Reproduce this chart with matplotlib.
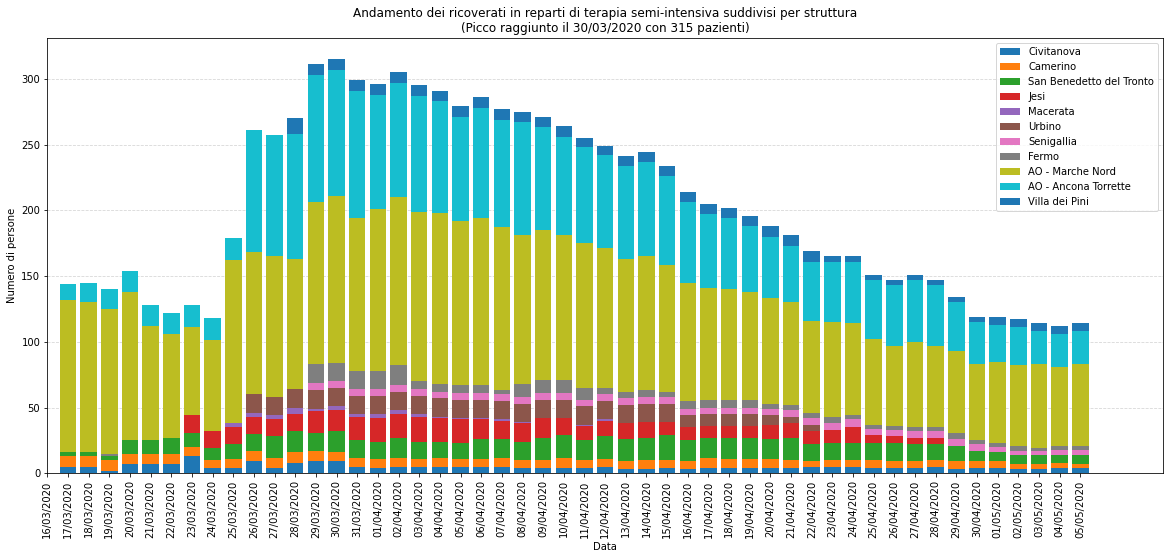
import matplotlib
matplotlib.use("Agg")
import matplotlib.pyplot as plt
import numpy as np
import pandas as pd

dates = list(pd.date_range("2020-03-16", "2020-05-05").strftime("%d/%m/%Y"))

civitanova = [0, 5, 5, 2, 7, 7, 7, 13, 4, 4, 9, 4, 8, 9, 9, 5, 4, 5, 5, 5, 5, 5, 5, 4, 4, 4,
              4, 5, 3, 3, 4, 3, 4, 4, 4, 4, 4, 5, 5, 5, 4, 4, 4, 5, 3, 4, 4, 3, 3, 4, 4]
camerino = [0, 8, 8, 8, 8, 8, 8, 7, 6, 7, 8, 8, 8, 8, 7, 7, 7, 7, 6, 7, 6, 6, 7, 6, 6, 8,
            6, 6, 6, 7, 6, 6, 8, 7, 7, 7, 6, 4, 5, 5, 6, 5, 5, 5, 6, 5, 5, 4, 4, 4, 3]
san_benedetto = [0, 3, 3, 3, 10, 10, 12, 11, 9, 11, 13, 16, 16, 14, 16, 13, 13, 15, 13, 12, 12, 15, 14, 14, 17, 17,
                 15, 17, 17, 17, 19, 16, 15, 16, 16, 15, 17, 13, 13, 13, 13, 14, 13, 12, 12, 8, 7, 7, 7, 6, 7]
jesi = [0, 0, 0, 0, 0, 0, 0, 13, 13, 13, 13, 13, 13, 16, 16, 18, 18, 18, 19, 18, 18, 15, 14, 14, 15, 13,
        11, 12, 12, 12, 10, 10, 9, 9, 9, 11, 11, 10, 10, 12, 6, 5, 5, 5, 0, 0, 0, 0, 0, 0, 0]
macerata = [0, 0, 0, 0, 0, 0, 0, 0, 0, 3, 3, 3, 5, 2, 3, 2, 3, 3, 2, 1, 1, 1, 1, 1, 0, 0,
            1, 1, 0, 0, 0, 0, 0, 0, 0, 0, 0, 0, 0, 0, 0, 0, 0, 0, 0, 0, 0, 0, 0, 0, 0]
urbino = [0, 0, 0, 0, 0, 0, 0, 0, 0, 0, 14, 14, 14, 14, 14, 14, 14, 14, 14, 14, 14, 14, 14, 14, 14, 14,
          14, 14, 14, 14, 14, 9, 9, 9, 9, 7, 5, 5, 0, 0, 0, 0, 0, 0, 0, 0, 0, 0, 0, 0, 0]
senigallia = [0, 0, 0, 0, 0, 0, 0, 0, 0, 0, 0, 0, 0, 6, 5, 5, 5, 5, 5, 5, 5, 5, 5, 5, 5, 5,
              5, 5, 5, 5, 5, 5, 5, 5, 5, 5, 5, 5, 5, 6, 5, 5, 5, 5, 5, 5, 4, 3, 3, 4, 4]
fermo = [0, 0, 0, 2, 0, 0, 0, 0, 0, 0, 0, 0, 0, 14, 14, 14, 14, 15, 6, 6, 6, 6, 3, 10, 10, 10,
         9, 5, 5, 5, 4, 6, 6, 6, 6, 4, 4, 4, 5, 3, 3, 3, 3, 3, 5, 3, 3, 4, 2, 3, 3]
marche_nord = [0, 116, 114, 110, 113, 87, 79, 67, 69, 124, 108, 107, 99, 123, 127, 116, 123, 128, 129, 130, 125, 127, 124, 113, 114, 110,
               110, 106, 101, 102, 96, 90, 85, 84, 82, 80, 78, 70, 72, 70, 65, 61, 65, 62, 62, 58, 62, 61, 64, 60, 62]
ancona_torrette = [0, 12, 15, 15, 16, 16, 16, 17, 17, 17, 93, 92, 95, 97, 96, 97, 87, 87, 88, 85, 79, 84, 82, 86, 78, 75,
                   73, 71, 71, 72, 68, 61, 56, 54, 50, 47, 43, 45, 46, 47, 45, 46, 47, 46, 37, 32, 28, 29, 25, 25, 25]
villa_dei_pini = [0, 0, 0, 0, 0, 0, 0, 0, 0, 0, 0, 0, 12, 8, 8, 8, 8, 8, 8, 8, 8, 8, 8, 8, 8, 8,
                  7, 7, 7, 7, 8, 8, 8, 8, 8, 8, 8, 8, 4, 4, 4, 4, 4, 4, 4, 4, 6, 6, 6, 6, 6]

series_names = ["Civitanova", "Camerino", "San Benedetto del Tronto", "Jesi", "Macerata",
                "Urbino", "Senigallia", "Fermo", "AO - Marche Nord", "AO - Ancona Torrette",
                "Villa dei Pini"]
series_values = [civitanova, camerino, san_benedetto, jesi, macerata, urbino, senigallia,
                 fermo, marche_nord, ancona_torrette, villa_dei_pini]
colors = ["C0", "C1", "C2", "C3", "C4", "C5", "C6", "C7", "C8", "C9", "C0"]

W, H, DPI = 1170, 559, 72
fig = plt.figure(figsize=(W / DPI, H / DPI), dpi=DPI)
ax = fig.add_axes([47.3 / W, 1 - 473.3 / H, (1163 - 47.3) / W, (473.3 - 38.3) / H])

x = np.arange(len(dates))
bottom = np.zeros(len(dates))
for name, vals, col in zip(series_names, series_values, colors):
    v = np.array(vals, dtype=float)
    ax.bar(x, v, width=0.8, bottom=bottom, color=col, label=name, zorder=2)
    bottom += v

ax.set_xlim(0, 54)
ax.set_xticks(x)
ax.set_xticklabels(dates, rotation=90, fontsize=10)
ax.tick_params(axis="y", labelsize=10)
ax.grid(axis="y", linestyle="--", color="#cccccc", alpha=0.8, zorder=0)
ax.set_axisbelow(True)
ax.set_xlabel("Data", fontsize=10)
ax.set_ylabel("Numero di persone", fontsize=10)
ax.set_title("Andamento dei ricoverati in reparti di terapia semi-intensiva suddivisi per struttura\n"
             "(Picco raggiunto il 30/03/2020 con 315 pazienti)", fontsize=12)
ax.legend(loc="upper right", fontsize=10)

fig.savefig("out.png", dpi=DPI)
